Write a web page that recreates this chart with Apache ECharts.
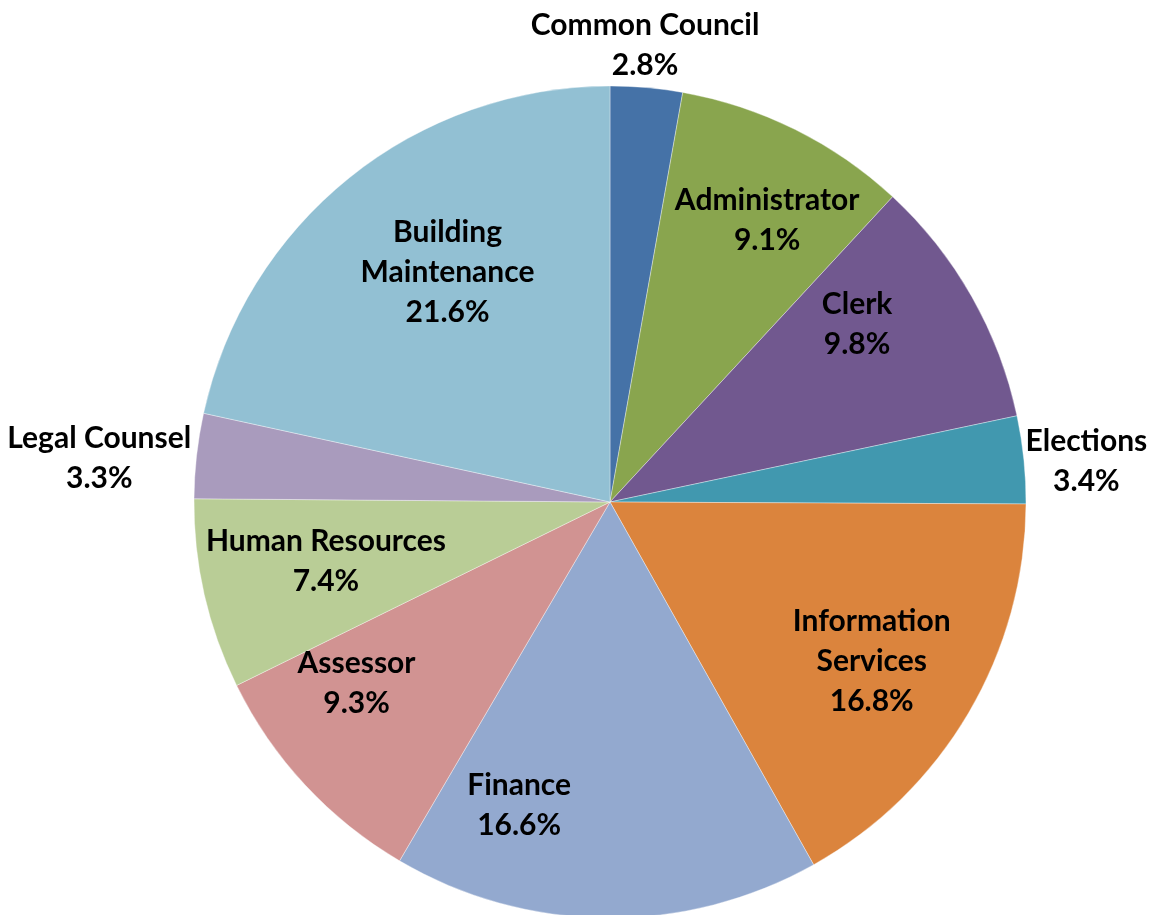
<!DOCTYPE html>
<html>
<head>
<meta charset="utf-8">
<title>Department Budget Share</title>
<script src="https://cdn.jsdelivr.net/npm/echarts@6/dist/echarts.min.js"></script>
<style>
  html, body { margin: 0; padding: 0; background: #ffffff; }
  #chart { width: 1154px; height: 915px; }
</style>
</head>
<body>
<div id="chart"></div>
<script>
// Departments, clockwise from 12 o'clock
const departments = [
  'Common Council', 'Administrator', 'Clerk', 'Elections',
  'Information\nServices', 'Finance', 'Assessor', 'Human Resources',
  'Legal Counsel', 'Building\nMaintenance'
];
// Share of the budget, in percent
const shares = [2.8, 9.1, 9.8, 3.4, 16.8, 16.6, 9.3, 7.4, 3.3, 21.6];
const colors = [
  '#4572A7', '#89A54E', '#71588F', '#4198AF', '#DB843D',
  '#93A9CF', '#D19392', '#B9CD96', '#A99BBD', '#92C0D3'
];
// hand nudges (px) applied to each label after it is placed on its mid angle
const labelNudges = [
  [-12, 4], [22, -10], [-17, -28], [-4, 6], [0, 5],
  [-88, 0], [-31, -25], [12, -8], [0, 8], [28, 7]
];

const CX = 610, CY = 502, R = 416;
const INSIDE_FRACTION = 0.73;   // labels sit at this fraction of the radius
const OUTSIDE_GAP = 6;          // gap between rim and outside labels
const SMALL_SLICE = 5;          // slices under this share get outside labels

// mid angle (radians, clockwise from 12 o'clock) of each slice
const total = shares.reduce((a, b) => a + b, 0);
const midAngles = [];
let acc = 0;
shares.forEach(v => {
  midAngles.push(((acc + v / 2) / total) * Math.PI * 2);
  acc += v;
});

const chart = echarts.init(document.getElementById('chart'), null, { renderer: 'canvas' });

chart.setOption({
  backgroundColor: '#ffffff',
  animation: false,
  series: [{
    type: 'pie',
    center: [CX, CY],
    radius: R,
    startAngle: 90,
    clockwise: true,
    avoidLabelOverlap: false,
    itemStyle: { borderColor: 'rgba(255,255,255,0.6)', borderWidth: 0.6 },
    label: {
      show: true,
      position: 'inside',
      fontFamily: 'Lato',
      fontWeight: 'bold',
      fontSize: 30,
      lineHeight: 40,
      color: '#000000',
      align: 'center',
      formatter: p => p.name + '\n' + shares[p.dataIndex].toFixed(1) + '%'
    },
    labelLine: { show: false },
    emphasis: { disabled: true },
    labelLayout: function (params) {
      const i = params.dataIndex;
      const a = midAngles[i];
      const s = Math.sin(a), c = Math.cos(a);
      let x, y;
      if (shares[i] < SMALL_SLICE) {
        const w = params.labelRect.width, h = params.labelRect.height;
        x = CX + s * (R + OUTSIDE_GAP) + s * w / 2;
        y = CY - c * (R + OUTSIDE_GAP) - c * h / 2;
      } else {
        x = CX + s * R * INSIDE_FRACTION;
        y = CY - c * R * INSIDE_FRACTION;
      }
      return {
        x: x + labelNudges[i][0],
        y: y + labelNudges[i][1],
        align: 'center',
        verticalAlign: 'middle'
      };
    },
    data: departments.map((name, i) => ({
      name: name,
      value: shares[i],
      itemStyle: { color: colors[i] }
    }))
  }]
});
</script>
</body>
</html>
